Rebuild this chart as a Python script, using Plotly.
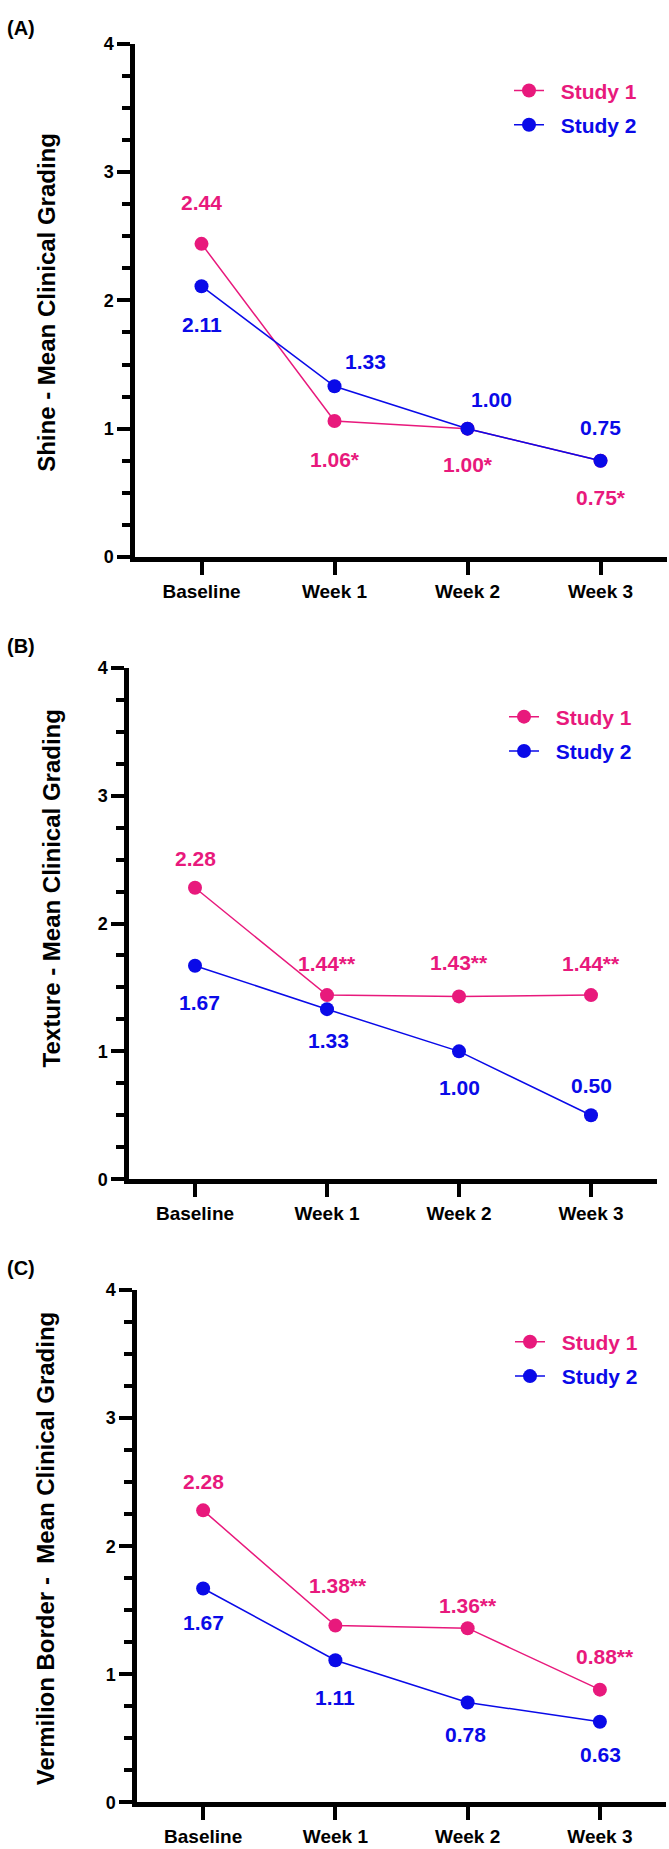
import plotly.graph_objects as go

# ---------------- data ----------------
categories = ["Baseline", "Week 1", "Week 2", "Week 3"]
series_names = ["Study 1", "Study 2"]

shine_study1 = [2.44, 1.06, 1.00, 0.75]
shine_study2 = [2.11, 1.33, 1.00, 0.75]
shine_marks1 = ["", "*", "*", "*"]

texture_study1 = [2.28, 1.44, 1.43, 1.44]
texture_study2 = [1.67, 1.33, 1.00, 0.50]
texture_marks1 = ["", "**", "**", "**"]

vermilion_study1 = [2.28, 1.38, 1.36, 0.88]
vermilion_study2 = [1.67, 1.11, 0.78, 0.63]
vermilion_marks1 = ["", "**", "**", "**"]

panel_titles = ["(A)", "(B)", "(C)"]
y_titles = ["Shine - Mean Clinical Grading",
            "Texture - Mean Clinical Grading",
            "Vermilion Border -  Mean Clinical Grading"]
y_ticks = [0, 1, 2, 3, 4]

# ---------------- styling / layout ----------------
W, H = 669, 1849
PINK = "#E8197C"
BLUE = "#0A0AE8"
FONT = "Arial, Liberation Sans, Helvetica, sans-serif"

# pixel geometry of each panel: (x_axis_left, x_axis_right, y_top(4), y_zero(0))
panels_px = [(135, 667, 34, 553), (129, 657, 665, 1182), (137, 666, 1294, 1812)]
panel_label_y = [18, 643, 1272]
ytitle_pos = [(47, 296), (51, 888), (45, 1556)]
legend_pos = [(509, 61), (504, 694), (510, 1326)]

# label pixel offsets (dx, dy) ; dy positive = downward
off1 = [[(0, -41), (0, 39), (0, 36), (0, 37)],
        [(0, -29), (0, -32), (0, -34), (0, -32)],
        [(0, -29), (3, -40), (0, -23), (5, -33)]]
off2 = [[(0, 38), (31, -25), (24, -29), (0, -33)],
        [(4, 37), (1, 31), (0, 36), (0, -30)],
        [(0, 34), (0, 37), (-2, 32), (1, 33)]]

data = [(shine_study1, shine_study2, shine_marks1),
        (texture_study1, texture_study2, texture_marks1),
        (vermilion_study1, vermilion_study2, vermilion_marks1)]

fig = go.Figure()
annotations = []
layout_axes = {}

for i, (s1, s2, marks) in enumerate(data):
    k = "" if i == 0 else str(i + 1)
    xa, ya = "x" + k, "y" + k
    leg = "legend" + k
    x0, x1, yt, yb = panels_px[i]

    layout_axes["xaxis" + k] = dict(
        domain=[x0 / W, x1 / W], anchor=ya, type="category",
        range=[-0.5, 3.5], showline=True, linewidth=4.5, linecolor="black",
        ticks="outside", ticklen=13, tickwidth=4, tickcolor="black",
        showgrid=False, zeroline=False, fixedrange=True,
        tickfont=dict(family=FONT, size=19, color="black", weight="bold"),
    )
    layout_axes["yaxis" + k] = dict(
        domain=[1 - yb / H, 1 - yt / H], anchor=xa, range=[0, 4],
        tickvals=y_ticks, showline=True, linewidth=4.5, linecolor="black",
        ticks="outside", ticklen=13, tickwidth=4, tickcolor="black",
        minor=dict(dtick=0.25, ticks="outside", ticklen=8, tickwidth=3.5,
                   tickcolor="black", showgrid=False),
        showgrid=False, zeroline=False, fixedrange=True,
        tickfont=dict(family=FONT, size=18, color="black", weight="bold"),
    )

    for j, (vals, col) in enumerate([(s1, PINK), (s2, BLUE)]):
        fig.add_trace(go.Scatter(
            x=categories, y=vals, xaxis=xa, yaxis=ya,
            mode="lines+markers",
            name='<span style="color:%s">\u00a0\u00a0%s</span>' % (col, series_names[j]),
            line=dict(color=col, width=1.5),
            marker=dict(color=col, size=14, line=dict(width=0)),
            legend=leg, legendgroup="g%d_%d" % (i, j),
            cliponaxis=False, hoverinfo="skip",
        ))

    # value labels
    for c, v, m, (dx, dy) in zip(categories, s1, marks, off1[i]):
        annotations.append(dict(x=c, y=v, xref=xa, yref=ya, text="%.2f%s" % (v, m),
                                showarrow=False, xshift=dx, yshift=-dy,
                                font=dict(family=FONT, size=21, color=PINK, weight="bold")))
    for c, v, (dx, dy) in zip(categories, s2, off2[i]):
        annotations.append(dict(x=c, y=v, xref=xa, yref=ya, text="%.2f" % v,
                                showarrow=False, xshift=dx, yshift=-dy,
                                font=dict(family=FONT, size=21, color=BLUE, weight="bold")))

    # panel letter
    annotations.append(dict(x=5 / W, y=1 - panel_label_y[i] / H, xref="paper", yref="paper",
                            text=panel_titles[i], showarrow=False, xanchor="left", yanchor="middle",
                            font=dict(family=FONT, size=20, color="black", weight="bold")))
    # y title
    tx, ty = ytitle_pos[i]
    annotations.append(dict(x=tx / W, y=1 - ty / H, xref="paper", yref="paper",
                            text=y_titles[i], showarrow=False, textangle=-90,
                            xanchor="center", yanchor="middle",
                            font=dict(family=FONT, size=24, color="black", weight="bold")))

    lx, ly = legend_pos[i]
    layout_axes[leg] = dict(
        x=lx / W, y=1 - ly / H, xanchor="left", yanchor="top",
        bgcolor="rgba(0,0,0,0)", borderwidth=0, traceorder="grouped",
        tracegroupgap=4, itemclick=False, itemdoubleclick=False,
        font=dict(family=FONT, size=21, color="black", weight="bold"),
    )

fig.update_layout(
    width=W, height=H, margin=dict(l=0, r=0, t=0, b=0),
    paper_bgcolor="white", plot_bgcolor="white",
    showlegend=True, annotations=annotations, **layout_axes,
)

fig.write_html("out.html")
